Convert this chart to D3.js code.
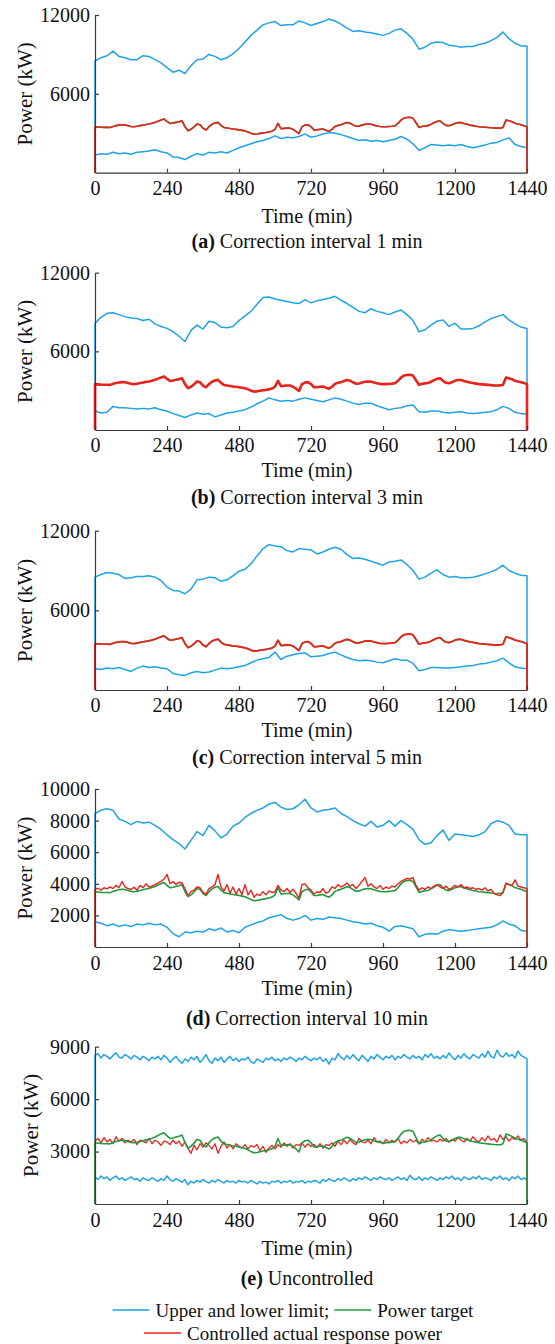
<!DOCTYPE html>
<html>
<head>
<meta charset="utf-8">
<script src="https://cdn.jsdelivr.net/npm/d3@7"></script>
<style>
  body { margin: 0; background: #fff; }
  text { font-family: "Liberation Serif", "Times New Roman", serif; fill: #111; }
</style>
</head>
<body>
<svg width="555" height="1344"></svg>
<script>
// x ticks (min)
const xTicks = [0, 240, 480, 720, 960, 1200, 1440];

// power target, 10 min step (same in every panel)
const target = [
  3500,3480,3460,3450,3450,3440,3520,3580,3620,3650,
  3640,3580,3520,3500,3530,3580,3620,3670,3700,3760,
  3830,3920,4010,4080,3900,3750,3780,3830,3880,3950,
  3500,3190,3300,3480,3700,3650,3380,3260,3500,3680,
  3780,3830,3600,3440,3400,3360,3320,3300,3260,3220,
  3180,3100,3000,2930,2950,2990,3030,3060,3100,3160,
  3300,3750,3350,3370,3390,3390,3300,3150,2980,3500,
  3620,3650,3500,3260,3260,3300,3320,3230,3150,3300,
  3520,3600,3650,3740,3820,3760,3640,3530,3550,3620,
  3680,3700,3690,3620,3560,3520,3500,3500,3520,3540,
  3570,3750,4000,4160,4200,4220,4150,3800,3450,3520,
  3560,3580,3680,3800,3900,3950,3750,3600,3570,3650,
  3750,3820,3810,3740,3680,3620,3580,3540,3500,3480,
  3460,3440,3420,3400,3390,3390,3450,4000,3950,3870,
  3760,3700,3650,3580,3500
];

// upper / lower limits, 20 min step
const upperA = [
  8500,8750,8900,9250,8850,8750,8600,8600,8900,8850,
  8600,8350,8000,7650,7800,7550,8150,8600,8650,9000,
  8850,8600,8750,9050,9450,9950,10450,10850,11250,11400,
  11500,11200,11250,11250,11550,11400,11200,11350,11500,11700,
  11550,11300,11000,10750,10800,10700,10650,10550,10450,10600,
  10850,10950,10600,10150,9400,9550,9850,9950,9900,9700,
  9650,9550,9600,9600,9750,9850,10050,10300,10700,10200,
  9850,9650,9650
];
const lowerA = [
  1350,1450,1400,1550,1450,1500,1400,1550,1600,1650,
  1750,1600,1500,1200,1150,1000,1250,1450,1350,1550,
  1500,1600,1500,1700,1900,2050,2200,2350,2450,2600,
  2800,2600,2700,2650,2750,2950,2700,2800,2950,3050,
  3000,2900,2750,2600,2450,2500,2400,2450,2350,2450,
  2550,2750,2550,2200,1700,1900,2150,2100,2050,2100,
  2050,2150,2000,1900,2000,2100,2250,2300,2500,2650,
  2150,2000,1900
];
const upperB = [
  8150,8600,8900,8950,8800,8650,8550,8500,8350,8450,
  8100,7900,7750,7500,7150,6750,7600,8000,7700,8300,
  8200,7850,7800,7900,8350,8700,9050,9600,10100,10150,
  10000,9900,9800,9700,9650,9950,9700,9850,9950,10050,
  10200,9900,9650,9350,9050,8950,9250,9050,8950,8800,
  9000,9150,8800,8350,7500,7650,8000,8300,8400,7900,
  8150,7700,7700,7750,7950,8250,8500,8650,8800,8400,
  8100,7850,7750
];
const lowerB = [
  1450,1300,1350,1800,1700,1700,1650,1600,1650,1600,
  1700,1550,1450,1250,1100,950,1150,1300,1200,1250,
  1000,1150,1300,1350,1450,1550,1750,2000,2200,2450,
  2300,2200,2250,2200,2350,2450,2350,2250,2150,2300,
  2450,2350,2200,2050,1950,2050,2050,1850,1700,1550,
  1650,1700,1850,1900,1400,1350,1450,1450,1350,1300,
  1350,1400,1300,1250,1300,1350,1400,1550,1800,1650,
  1350,1250,1200
];
const upperC = [
  8500,8700,8850,8800,8700,8400,8450,8550,8550,8600,
  8500,8250,7750,7500,7450,7250,7600,8300,8350,8500,
  8450,8200,8300,8600,8950,9100,9500,10100,10650,10950,
  10850,10800,10500,10400,10650,10600,10550,10250,10400,10600,
  10750,10600,10200,9900,9950,9850,9700,9550,9400,9650,
  9700,9800,9450,9000,8350,8500,8800,9050,8700,8500,
  8550,8450,8450,8500,8600,8750,8900,9100,9400,9000,
  8800,8650,8600
];
const lowerC = [
  1600,1550,1650,1600,1700,1550,1400,1650,1800,1700,
  1750,1650,1600,1250,1150,1100,1300,1400,1300,1350,
  1500,1650,1600,1650,1750,1850,2050,2250,2350,2450,
  2850,2300,2550,2650,2750,2800,2500,2550,2600,2750,
  2850,2650,2450,2300,2200,2250,2200,2100,2050,2200,
  2350,2250,2250,2000,1450,1550,1700,1700,1650,1650,
  1700,1750,1800,1850,1950,2000,2100,2200,2400,2050,
  1750,1650,1600
];
const upperD = [
  8450,8650,8750,8650,8100,7950,7750,7950,7850,7900,
  7700,7450,7100,6800,6550,6200,6750,7300,7050,7700,
  7350,6900,7150,7650,7850,8200,8450,8650,8800,9050,
  9150,8850,8700,8750,9000,9350,8800,8550,8650,8700,
  8800,8450,8250,8000,7800,7650,7950,7600,7700,8000,
  7650,8000,7750,7450,6800,6500,6600,7050,7400,6750,
  7150,7100,7050,7000,7100,7300,7800,8000,7900,7700,
  7150,7100,7100
];
const lowerD = [
  1600,1500,1350,1450,1300,1400,1300,1450,1400,1500,
  1400,1450,1250,850,650,950,900,1000,950,1150,
  1050,1200,950,1050,900,1250,1400,1550,1650,1850,
  1950,2050,1800,1700,1800,2000,1700,1800,1750,1900,
  1850,1800,1700,1600,1550,1450,1500,1350,1250,1000,
  1300,1350,1250,1150,650,800,850,800,1000,1100,
  1050,1000,1050,1100,1150,1200,1250,1400,1650,1450,
  1350,1050,1000
];

// actual response power, 10 min step (panels a-c follow the target)
const actualD = [
  3650,3720,3600,3750,3680,3800,3700,3900,3750,4150,
  3800,3700,3650,3780,3600,3900,3750,4000,3800,3850,
  3950,4050,4150,4300,4600,4000,4150,3950,4100,4050,
  3700,3250,3500,3600,3800,3750,3450,3350,3700,3800,
  3950,4600,3800,3550,3950,3400,3800,3350,3700,3300,
  3950,3300,3600,3150,3350,3250,3500,3300,3550,3450,
  3500,3900,3600,3500,3700,3450,3650,3400,3100,3950,
  4000,3750,3600,3350,3500,3450,3700,3400,3500,3800,
  3700,3950,3800,3900,4050,3850,3950,3700,3900,4150,
  4400,3850,4000,3800,3700,3900,3650,3800,3700,3850,
  3800,4000,4150,4250,4350,4300,4400,3900,3600,3750,
  3650,3800,3700,3850,3950,3800,3700,3850,3650,3750,
  3900,3800,3950,3750,3800,3700,3750,3650,3700,3600,
  3750,3550,3650,3400,3300,3250,3450,4050,3950,3900,
  4250,3850,3800,3750,3700
];
const actualE = [
  3600,3750,3500,3800,3550,3700,3450,3850,3600,3750,
  3500,3650,3550,3700,3400,3650,3600,3500,3750,3450,
  3650,3550,3350,3600,3550,3400,3650,3450,3600,3300,
  3550,3200,2900,3350,3100,3450,3250,3500,3350,3150,
  3450,2900,3300,3550,3200,3400,3150,3450,3300,3200,
  3400,3150,3350,3250,3400,3050,3300,2950,3200,3350,
  3150,3400,3250,3500,3300,3450,3200,3400,3350,3500,
  3250,3450,3300,3400,3250,3450,3200,3400,3350,3500,
  3300,3600,3400,3650,3450,3700,3500,3400,3750,3550,
  3500,3650,3450,3800,3550,3600,3450,3700,3500,3650,
  3550,3750,3450,3600,3500,3700,3550,3650,3450,3700,
  3550,3800,3600,3650,3550,3700,3600,3750,3550,3700,
  3600,3800,3650,3550,3750,3600,3850,3650,3550,3800,
  3600,3900,3650,3750,3550,3950,3700,3850,3600,3800,
  3700,3900,3650,3750,3500
];
const upperE = [
  8500,8600,8350,8550,8450,8300,8500,8650,8400,8350,
  8550,8450,8300,8500,8400,8250,8450,8350,8200,8400,
  8300,8450,8250,8500,8350,8100,8300,8450,8200,8050,
  8300,8150,8400,8250,8450,8100,8300,8550,8200,8050,
  8350,8200,8400,8100,8300,8450,8200,8350,8150,8300,
  8250,8400,8150,8050,8300,8200,8100,8350,8250,8400,
  8200,8300,8150,8350,8250,8400,8300,8150,8350,8250,
  8450,8300,8200,8350,8250,8400,8150,8300,8000,8350,
  8250,8600,8400,8250,8500,8300,8550,8350,8200,8500,
  8350,8150,8450,8300,8550,8400,8250,8450,8350,8500,
  8250,8450,8350,8550,8400,8300,8500,8350,8450,8250,
  8550,8400,8600,8350,8450,8300,8500,8350,8650,8400,
  8250,8500,8350,8600,8400,8300,8550,8450,8350,8600,
  8400,8750,8450,8350,8800,8500,8400,8650,8450,8550,
  8350,8750,8500,8400,8300
];
const lowerE = [
  1550,1400,1600,1450,1550,1350,1500,1600,1400,1500,
  1350,1450,1550,1400,1450,1300,1500,1400,1350,1500,
  1400,1300,1450,1350,1600,1400,1300,1450,1350,1250,
  1400,1100,1300,1200,1350,1250,1400,1300,1200,1350,
  1250,1400,1300,1200,1350,1250,1300,1200,1350,1250,
  1300,1200,1350,1250,1150,1300,1200,1250,1150,1300,
  1250,1350,1200,1300,1250,1350,1200,1300,1250,1350,
  1200,1300,1250,1350,1300,1200,1400,1300,1450,1350,
  1300,1450,1350,1500,1400,1300,1450,1350,1500,1400,
  1550,1450,1350,1500,1400,1550,1450,1400,1500,1350,
  1450,1550,1400,1500,1350,1650,1450,1400,1550,1350,
  1500,1400,1550,1450,1350,1500,1400,1550,1450,1600,
  1400,1500,1350,1550,1450,1400,1550,1450,1600,1400,
  1500,1450,1350,1550,1450,1600,1400,1500,1350,1550,
  1450,1600,1400,1500,1350
];

const legendLabels = ["Upper and lower limit;", "Power target", "Controlled actual response power"];

const BLUE = "#1ea3e6", GREEN = "#1f9a3c", RED = "#e8241e";

const panels = [
  { top: 15, bottom: 172.7, yMax: 12000, yTicks: [6000, 12000], upper: upperA, lower: lowerA, actual: target,
    tickY: 188, timeY: 216, capY: 241, ylabX: 25, tag: "(a)", cap: " Correction interval 1 min", redW: 1.6, greenTop: false },
  { top: 272.7, bottom: 430, yMax: 12000, yTicks: [6000, 12000], upper: upperB, lower: lowerB, actual: target,
    tickY: 445, timeY: 470, capY: 497, ylabX: 25, tag: "(b)", cap: " Correction interval 3 min", redW: 2.6, greenTop: false },
  { top: 530.7, bottom: 690, yMax: 12000, yTicks: [6000, 12000], upper: upperC, lower: lowerC, actual: target,
    tickY: 705, timeY: 730, capY: 757, ylabX: 25, tag: "(c)", cap: " Correction interval 5 min", redW: 1.8, greenTop: false },
  { top: 789, bottom: 947, yMax: 10000, yTicks: [2000, 4000, 6000, 8000, 10000], upper: upperD, lower: lowerD, actual: actualD,
    tickY: 963, timeY: 988, capY: 1018, ylabX: 25, tag: "(d)", cap: " Correction interval 10 min", redW: 1.4, greenTop: false },
  { top: 1046.7, bottom: 1204, yMax: 9000, yTicks: [3000, 6000, 9000], upper: upperE, lower: lowerE, actual: actualE,
    tickY: 1220, timeY: 1248, capY: 1278, ylabX: 31, tag: "(e)", cap: " Uncontrolled", redW: 1.3, greenTop: true }
];

function main() {
  let svg = d3.select("svg");
  let x = d3.scaleLinear().domain([0, 1440]).range([95, 527]);

  // each series runs 0..1440 min, pinned to 0 at both ends like the original plot
  function toPoints(vals) {
    let step = 1440 / (vals.length - 1);
    let pts = vals.map(function (v, i) { return [i * step, v]; });
    return [[0, 0]].concat(pts, [[1440, 0]]);
  }

  panels.forEach(function (p) {
    let y = d3.scaleLinear().domain([0, p.yMax]).range([p.bottom, p.top]);
    let g = svg.append("g");
    let line = d3.line().x(function (d) { return x(d[0]); }).y(function (d) { return y(d[1]); });

    function draw(vals, color, w) {
      g.append("path")
        .datum(toPoints(vals))
        .attr("d", line)
        .attr("fill", "none")
        .attr("stroke", color)
        .attr("stroke-width", w)
        .attr("stroke-linejoin", "round");
    }

    draw(p.upper, BLUE, 1.5);
    draw(p.lower, BLUE, 1.5);
    if (p.greenTop) {
      draw(p.actual, RED, p.redW);
      draw(target, GREEN, 1.6);
    } else {
      draw(target, GREEN, 1.6);
      draw(p.actual, RED, p.redW);
    }

    // axes, ticks pointing inward
    let yAxis = g.append("g")
      .attr("transform", "translate(" + x(0) + ",0)")
      .call(d3.axisLeft(y).tickValues(p.yTicks).tickFormat(d3.format("d")).tickSizeInner(-4).tickSizeOuter(0).tickPadding(5));
    let xAxis = g.append("g")
      .attr("transform", "translate(0," + p.bottom + ")")
      .call(d3.axisBottom(x).tickValues(xTicks).tickFormat(d3.format("d")).tickSizeInner(-4).tickSizeOuter(0).tickPadding(7));
    [yAxis, xAxis].forEach(function (a) {
      a.attr("font-family", null).attr("font-size", 20);
      a.selectAll("path, line").attr("stroke", "#3a3a3a").attr("stroke-width", 1.2);
      a.selectAll("text").attr("fill", "#111");
    });
    xAxis.selectAll("text").attr("dy", null).attr("y", p.tickY - p.bottom).attr("dominant-baseline", "central");

    g.append("text")
      .attr("transform", "translate(" + p.ylabX + "," + (p.top + p.bottom) / 2 + ") rotate(-90)")
      .attr("text-anchor", "middle")
      .attr("dominant-baseline", "central")
      .attr("font-size", 21)
      .text("Power (kW)");

    g.append("text")
      .attr("x", 307)
      .attr("y", p.timeY)
      .attr("text-anchor", "middle")
      .attr("dominant-baseline", "central")
      .attr("font-size", 20)
      .text("Time (min)");

    let cap = g.append("text")
      .attr("x", 307)
      .attr("y", p.capY)
      .attr("text-anchor", "middle")
      .attr("dominant-baseline", "central")
      .attr("font-size", 20);
    cap.append("tspan").attr("font-weight", "bold").text(p.tag);
    cap.append("tspan").text(p.cap);
  });

  // legend, two centred rows
  let legend = svg.append("g").attr("font-size", 19);
  let rows = [
    { y: 1310, items: [[BLUE, legendLabels[0]], [GREEN, legendLabels[1]]] },
    { y: 1333, items: [[RED, legendLabels[2]]] }
  ];
  rows.forEach(function (r) {
    let row = legend.append("g");
    let cx = 0;
    r.items.forEach(function (it, i) {
      if (i > 0) cx += 5;
      row.append("line")
        .attr("x1", cx).attr("x2", cx + 37)
        .attr("y1", r.y).attr("y2", r.y)
        .attr("stroke", it[0]).attr("stroke-width", 1.4);
      let t = row.append("text")
        .attr("x", cx + 43)
        .attr("y", r.y)
        .attr("dominant-baseline", "central")
        .text(it[1]);
      cx += 43 + t.node().getComputedTextLength();
    });
    row.attr("transform", "translate(" + (293 - cx / 2) + ",0)");
  });
}

main();
</script>
</body>
</html>
